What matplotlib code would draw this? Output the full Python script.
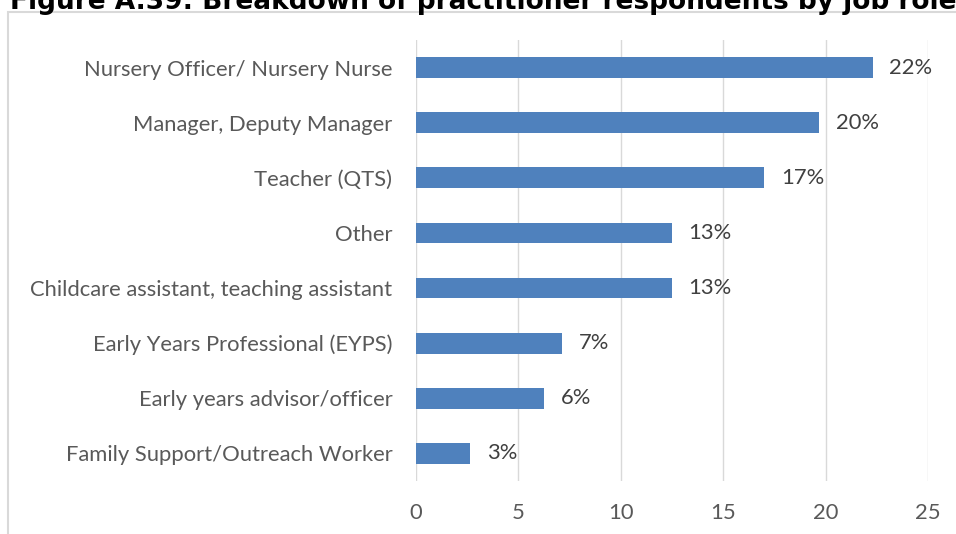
import matplotlib
matplotlib.use("Agg")
import matplotlib.pyplot as plt
from matplotlib.patches import Rectangle

categories = [
    "Nursery Officer/ Nursery Nurse",
    "Manager, Deputy Manager",
    "Teacher (QTS)",
    "Other",
    "Childcare assistant, teaching assistant",
    "Early Years Professional (EYPS)",
    "Early years advisor/officer",
    "Family Support/Outreach Worker",
]
values = [22.3, 19.7, 17.0, 12.5, 12.5, 7.15, 6.25, 2.65]
value_labels = ["22%", "20%", "17%", "13%", "13%", "7%", "6%", "3%"]
x_ticks = [0, 5, 10, 15, 20, 25]
title = "Figure A.39: Breakdown of practitioner respondents by job role"

W, H = 956, 534
fig = plt.figure(figsize=(W / 100, H / 100), dpi=100)
fig.patch.set_facecolor("white")

# outer chart frame
fig.patches.append(Rectangle((8 / W, -0.1), 1.2, 1 - 12 / H + 0.1, transform=fig.transFigure,
                             fill=False, edgecolor="#d9d9d9", linewidth=1.5, clip_on=False))

ax = fig.add_axes([416 / W, 1 - 481 / H, (928 - 416) / W, (481 - 40) / H])
pos = list(range(len(categories)))
ax.barh(pos, values, height=0.375, color="#4F81BD", zorder=3)
ax.set_ylim(len(categories) - 0.5, -0.5)
ax.set_xlim(0, 25)
ax.set_xticks(x_ticks)
ax.set_xticklabels([str(t) for t in x_ticks])
ax.set_yticks(pos)
ax.set_yticklabels(categories)
for s in ax.spines.values():
    s.set_visible(False)
ax.grid(axis="x", color="#d9d9d9", linewidth=1.0, zorder=0)
ax.tick_params(axis="both", length=0, colors="#595959", labelsize=15.8)
ax.tick_params(axis="y", pad=17)
ax.tick_params(axis="x", pad=16)
for lab in ax.get_xticklabels() + ax.get_yticklabels():
    lab.set_family("Lato")

for p, v, t in zip(pos, values, value_labels):
    ax.annotate(t, (v, p), xytext=(12, 0), textcoords="offset points", va="center", ha="left",
                color="#404040", fontsize=15.8, family="Lato")

fig.text(10 / W, 1 - 9 / H, title, ha="left", va="baseline", fontsize=19, fontweight="bold",
         family="DejaVu Sans", color="black")

fig.savefig("out.png", dpi=100)
